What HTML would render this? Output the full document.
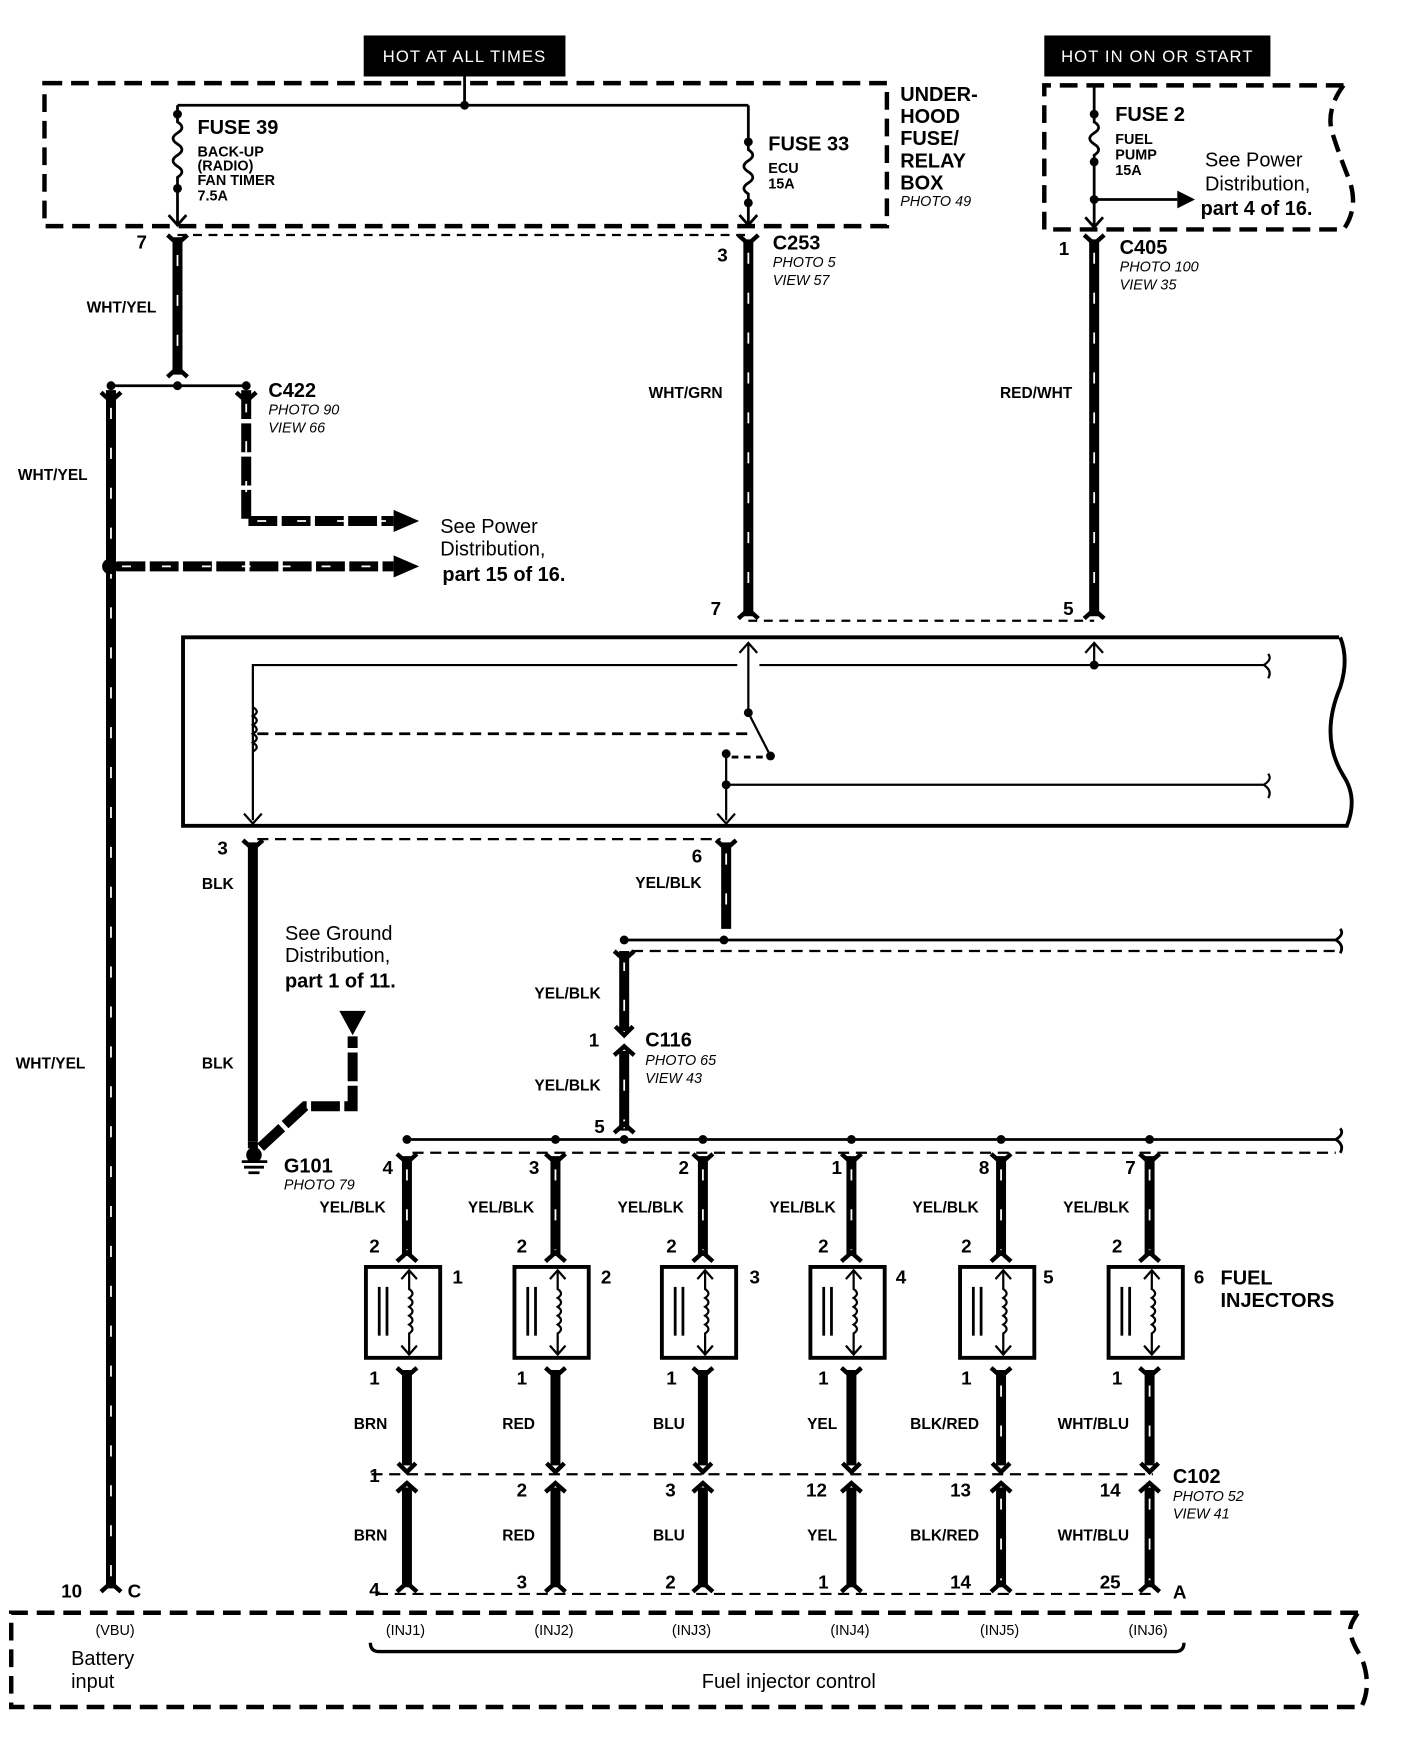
<!DOCTYPE html>
<html><head><meta charset="utf-8"><style>
html,body{margin:0;padding:0;background:#fff}
svg{display:block}
text{font-family:"Liberation Sans",sans-serif;fill:#000}
.b{font-weight:bold}
.w{font-weight:bold;font-size:14px}
.p{font-weight:bold;font-size:17px}
.i{font-style:italic;font-size:13px}
.h{font-weight:bold;font-size:18px}
</style></head><body>
<svg width="1408" height="1748" viewBox="0 0 1270 1577" xmlns="http://www.w3.org/2000/svg">
<defs>
<g id="inj">
<rect x="-37" y="0" width="67" height="82" fill="#fff" stroke="#000" stroke-width="3.5"/>
<line x1="-25" y1="18" x2="-25" y2="62" stroke="#000" stroke-width="2.5"/>
<line x1="-18" y1="18" x2="-18" y2="62" stroke="#000" stroke-width="2.5"/>
<path d="M2 3 V20 q6 4 0 8 q6 4 0 8 q6 4 0 8 q6 4 0 8 q6 4 0 8 V79" fill="none" stroke="#000" stroke-width="2"/>
<path d="M-5 11 L2 3 L9 11 M-5 71 L2 79 L9 71" fill="none" stroke="#000" stroke-width="2"/>
</g>
<path id="fork" d="M-9 -2 L0 6 L9 -2" fill="none" stroke="#000" stroke-width="4"/>
<path id="forku" d="M-9 2 L0 -6 L9 2" fill="none" stroke="#000" stroke-width="4"/>
<path id="chev" d="M-8 -8 L0 0 L8 -8" fill="none" stroke="#000" stroke-width="4"/>
</defs>

<rect x="328" y="32" width="182" height="37" fill="#000"/>
<text x="419" y="56" text-anchor="middle" style="fill:#fff;font-size:15px;letter-spacing:1px">HOT AT ALL TIMES</text>
<rect x="942" y="32" width="204" height="37" fill="#000"/>
<text x="1044" y="56" text-anchor="middle" style="fill:#fff;font-size:15px;letter-spacing:1px">HOT IN ON OR START</text>

<g fill="none" stroke="#000">
<rect x="40" y="75" width="760" height="129" stroke-width="4" stroke-dasharray="16 8"/>
<path d="M1212 77 H942 V207 H1212 q14 -20 5 -45 q-10 -25 -16 -45 q-4 -20 11 -40" stroke-width="4" stroke-dasharray="16 8"/>
<path d="M160 95 H675 M419 69 V95" stroke-width="2.5"/>
<path d="M160 95 V110 q8 5 0 10 q-8 5 0 10 q8 5 0 10 q-8 5 0 10 q8 5 0 10 V204 M152 194 L160 203 L168 194" stroke-width="2.5"/>
<path d="M675 95 V135 q8 5 0 10 q-8 5 0 10 q8 5 0 10 q-8 5 0 10 V204 M667 194 L675 203 L683 194" stroke-width="2.5"/>
<path d="M987 77 V110 q8 5 0 10 q-8 5 0 10 q8 5 0 10 V205 M979 196 L987 205 L995 196 M987 180 H1062" stroke-width="2.5"/>
<path d="M160 212 H675" stroke-width="2" stroke-dasharray="8 6"/>
</g>
<polygon points="1062,172 1078,180 1062,188" fill="#000"/>
<g fill="#000"><circle cx="419" cy="95" r="4"/><circle cx="160" cy="103" r="4"/><circle cx="160" cy="170" r="4"/><circle cx="675" cy="128" r="4"/><circle cx="675" cy="183" r="4"/><circle cx="987" cy="103" r="4"/><circle cx="987" cy="146" r="4"/><circle cx="987" cy="180" r="4"/></g>

<text x="178" y="121" class="h">FUSE 39</text>
<text x="178" y="141" class="b" font-size="13">BACK-UP</text>
<text x="178" y="154" class="b" font-size="13">(RADIO)</text>
<text x="178" y="167" class="b" font-size="13">FAN TIMER</text>
<text x="178" y="181" class="b" font-size="13">7.5A</text>
<text x="693" y="136" class="h">FUSE 33</text>
<text x="693" y="156" class="b" font-size="13">ECU</text>
<text x="693" y="170" class="b" font-size="13">15A</text>
<text x="812" y="91" class="h">UNDER-</text>
<text x="812" y="111" class="h">HOOD</text>
<text x="812" y="131" class="h">FUSE/</text>
<text x="812" y="151" class="h">RELAY</text>
<text x="812" y="171" class="h">BOX</text>
<text x="812" y="186" class="i">PHOTO 49</text>
<text x="1006" y="109" class="h">FUSE 2</text>
<text x="1006" y="130" class="b" font-size="13">FUEL</text>
<text x="1006" y="144" class="b" font-size="13">PUMP</text>
<text x="1006" y="158" class="b" font-size="13">15A</text>
<text x="1087" y="150" font-size="18">See Power</text>
<text x="1087" y="172" font-size="18">Distribution,</text>
<text x="1083" y="194" class="h" font-size="19">part 4 of 16.</text>

<g stroke-linecap="butt">
<g stroke="#000" stroke-width="9" fill="none">
<path d="M160 214 V338"/>
<path d="M100 352 V1433"/>
<path d="M675 216 V556"/>
<path d="M987 216 V556"/>
<path d="M228 760 V1030"/>
<path d="M655 760 V838"/>
<path d="M563 858 V930 M563 948 V1020"/>
</g>
<g stroke="#000" stroke-width="9" fill="none" stroke-dasharray="26 4">
<path d="M222 352 V470 H355"/>
<path d="M105 511 H355"/>
<path d="M235 1035 L275 998 H318 V935"/>
</g>
<g stroke="#fff" stroke-width="1.6" fill="none" stroke-dasharray="10 26">
<path d="M160 230 V338"/>
<path d="M100 368 V1430"/>
<path d="M675 228 V550"/>
<path d="M987 228 V550"/>
<path d="M655 770 V838"/>
<path d="M563 866 V1018"/>
<path d="M222 362 V465"/>
<path d="M232 470 H350 M110 511 H350" stroke-dasharray="8 28"/>
</g>
</g>
<polygon points="355,460 378,470 355,480" fill="#000"/>
<polygon points="355,501 378,511 355,521" fill="#000"/>
<polygon points="306,912 330,912 318,934" fill="#000"/>
<circle cx="99" cy="511" r="7" fill="#000"/>

<use href="#fork" x="160" y="214"/><use href="#fork" x="675" y="214"/><use href="#fork" x="987" y="214"/>
<use href="#forku" x="160" y="338"/>
<use href="#fork" x="100" y="356"/><use href="#fork" x="222" y="356"/>
<use href="#forku" x="675" y="556"/><use href="#forku" x="987" y="556"/>
<path d="M675 560 H987" stroke="#000" stroke-width="2" stroke-dasharray="8 6"/>

<text x="123" y="224" class="p">7</text>
<text x="78" y="282" class="w">WHT/YEL</text>
<text x="647" y="236" class="p">3</text>
<text x="697" y="225" class="h">C253</text>
<text x="697" y="241" class="i">PHOTO 5</text>
<text x="697" y="257" class="i">VIEW 57</text>
<text x="955" y="230" class="p">1</text>
<text x="1010" y="229" class="h">C405</text>
<text x="1010" y="245" class="i">PHOTO 100</text>
<text x="1010" y="261" class="i">VIEW 35</text>
<text x="585" y="359" class="w">WHT/GRN</text>
<text x="902" y="359" class="w">RED/WHT</text>
<text x="641" y="555" class="p">7</text>
<text x="959" y="555" class="p">5</text>

<path d="M100 348 H222" stroke="#000" stroke-width="2.5"/>
<g fill="#000"><circle cx="100" cy="348" r="4"/><circle cx="160" cy="348" r="4"/><circle cx="222" cy="348" r="4"/></g>
<text x="242" y="358" class="h">C422</text>
<text x="242" y="374" class="i">PHOTO 90</text>
<text x="242" y="390" class="i">VIEW 66</text>
<text x="16" y="433" class="w">WHT/YEL</text>
<text x="14" y="964" class="w">WHT/YEL</text>
<text x="397" y="481" font-size="18">See Power</text>
<text x="397" y="501" font-size="18">Distribution,</text>
<text x="399" y="524" class="h" font-size="19">part 15 of 16.</text>

<path d="M1208 575 H165 V745 H1215 q10 -25 -3 -45 q-22 -35 -3 -80 q8 -25 0 -45" fill="none" stroke="#000" stroke-width="3.5"/>
<g fill="none" stroke="#000" stroke-width="2">
<path d="M228 740 V600 H665 M685 600 H1140 q8 -5 4 -10 M1140 600 q8 5 4 12"/>
<path d="M228 638 q7 4 0 8 q7 4 0 8 q7 4 0 8 q7 4 0 8 q7 4 0 8"/>
<path d="M220 734 L228 743 L236 734"/>
<path d="M675 640 V580 M667 589 L675 580 L683 589"/>
<path d="M987 600 V580 M979 589 L987 580 L995 589"/>
<path d="M232 662 H680" stroke-dasharray="10 6" stroke-width="2.5"/>
<path d="M675 643 L695 682"/>
<path d="M655 680 V740 M647 734 L655 743 L663 734 M655 708 H1140 q8 -5 4 -10 M1140 708 q8 5 4 12"/>
<path d="M660 683 H690" stroke-dasharray="6 5" stroke-width="2.5"/>
</g>
<g fill="#000"><circle cx="675" cy="643" r="4"/><circle cx="695" cy="682" r="4"/><circle cx="655" cy="680" r="4"/><circle cx="655" cy="708" r="4"/><circle cx="987" cy="600" r="4"/></g>

<use href="#fork" x="228" y="760"/><use href="#fork" x="655" y="760"/>
<path d="M232 757 H650" stroke="#000" stroke-width="2" stroke-dasharray="10 6"/>
<text x="196" y="771" class="p">3</text>
<text x="182" y="802" class="w">BLK</text>
<text x="182" y="964" class="w">BLK</text>
<text x="624" y="778" class="p">6</text>
<text x="573" y="801" class="w">YEL/BLK</text>
<text x="257" y="848" font-size="18">See Ground</text>
<text x="257" y="868" font-size="18">Distribution,</text>
<text x="257" y="891" class="h" font-size="19">part 1 of 11.</text>
<circle cx="229" cy="1042" r="7" fill="#000"/>
<path d="M218 1048 H241 M220 1053 H238 M224 1058 H234" stroke="#000" stroke-width="2.5"/>
<path d="M228 1030 V1036" stroke="#000" stroke-width="9"/>
<text x="256" y="1058" class="h">G101</text>
<text x="256" y="1073" class="i">PHOTO 79</text>

<path d="M563 848 H1205 q8 -5 4 -10 M1205 848 q8 5 4 12" stroke="#000" stroke-width="2.5" fill="none"/>
<path d="M570 858 H1205" stroke="#000" stroke-width="2" stroke-dasharray="10 6"/>
<circle cx="563" cy="848" r="4"/><circle cx="653" cy="848" r="4"/>
<use href="#fork" x="563" y="860"/>
<use href="#chev" x="563" y="934"/><use href="#forku" x="563" y="950"/><use href="#forku" x="563" y="1020"/>
<text x="482" y="901" class="w">YEL/BLK</text>
<text x="531" y="944" class="p">1</text>
<text x="582" y="944" class="h">C116</text>
<text x="582" y="961" class="i">PHOTO 65</text>
<text x="582" y="977" class="i">VIEW 43</text>
<text x="482" y="984" class="w">YEL/BLK</text>
<text x="536" y="1022" class="p">5</text>

<path d="M367 1028 H1205 q8 -5 4 -10 M1205 1028 q8 5 4 12" stroke="#000" stroke-width="2.5" fill="none"/>
<path d="M372 1040 H1205" stroke="#000" stroke-width="2" stroke-dasharray="10 6"/>
<g fill="#000"><circle cx="367" cy="1028" r="4"/><circle cx="501" cy="1028" r="4"/><circle cx="563" cy="1028" r="4"/><circle cx="634" cy="1028" r="4"/><circle cx="768" cy="1028" r="4"/><circle cx="903" cy="1028" r="4"/><circle cx="1037" cy="1028" r="4"/></g>

<g stroke="#000" stroke-width="9" fill="none">
<path d="M367 1043 V1133 M501 1043 V1133 M634 1043 V1133 M768 1043 V1133 M903 1043 V1133 M1037 1043 V1133"/>
<path d="M367 1236 V1322 M501 1236 V1322 M634 1236 V1322 M768 1236 V1322 M903 1236 V1322 M1037 1236 V1322"/>
<path d="M367 1342 V1432 M501 1342 V1432 M634 1342 V1432 M768 1342 V1432 M903 1342 V1432 M1037 1342 V1432"/>
</g>
<g stroke="#fff" stroke-width="1.6" fill="none" stroke-dasharray="10 26">
<path d="M367 1055 V1130 M501 1055 V1130 M634 1055 V1130 M768 1055 V1130 M903 1055 V1130 M1037 1055 V1130"/>
<path d="M903 1250 V1318 M1037 1250 V1318 M903 1352 V1430 M1037 1352 V1430"/>
</g>
<g>
<use href="#fork" x="367" y="1043"/><use href="#fork" x="501" y="1043"/><use href="#fork" x="634" y="1043"/><use href="#fork" x="768" y="1043"/><use href="#fork" x="903" y="1043"/><use href="#fork" x="1037" y="1043"/>
<use href="#forku" x="367" y="1136"/><use href="#forku" x="501" y="1136"/><use href="#forku" x="634" y="1136"/><use href="#forku" x="768" y="1136"/><use href="#forku" x="903" y="1136"/><use href="#forku" x="1037" y="1136"/>
<use href="#fork" x="367" y="1236"/><use href="#fork" x="501" y="1236"/><use href="#fork" x="634" y="1236"/><use href="#fork" x="768" y="1236"/><use href="#fork" x="903" y="1236"/><use href="#fork" x="1037" y="1236"/>
<use href="#chev" x="367" y="1328"/><use href="#chev" x="501" y="1328"/><use href="#chev" x="634" y="1328"/><use href="#chev" x="768" y="1328"/><use href="#chev" x="903" y="1328"/><use href="#chev" x="1037" y="1328"/>
<use href="#forku" x="367" y="1344"/><use href="#forku" x="501" y="1344"/><use href="#forku" x="634" y="1344"/><use href="#forku" x="768" y="1344"/><use href="#forku" x="903" y="1344"/><use href="#forku" x="1037" y="1344"/>
<use href="#forku" x="367" y="1434"/><use href="#forku" x="501" y="1434"/><use href="#forku" x="634" y="1434"/><use href="#forku" x="768" y="1434"/><use href="#forku" x="903" y="1434"/><use href="#forku" x="1037" y="1434"/>
<use href="#forku" x="100" y="1434"/>
</g>
<path d="M335 1330 H1040" stroke="#000" stroke-width="2" stroke-dasharray="10 6"/>
<path d="M340 1438 H1040" stroke="#000" stroke-width="2" stroke-dasharray="10 6"/>
<use href="#inj" x="367" y="1143"/><use href="#inj" x="501" y="1143"/><use href="#inj" x="634" y="1143"/><use href="#inj" x="768" y="1143"/><use href="#inj" x="903" y="1143"/><use href="#inj" x="1037" y="1143"/>

<g>
<text x="345" y="1059" class="p">4</text><text x="477" y="1059" class="p">3</text><text x="612" y="1059" class="p">2</text><text x="750" y="1059" class="p">1</text><text x="883" y="1059" class="p">8</text><text x="1015" y="1059" class="p">7</text>
<text x="333" y="1130" class="p">2</text><text x="466" y="1130" class="p">2</text><text x="601" y="1130" class="p">2</text><text x="738" y="1130" class="p">2</text><text x="867" y="1130" class="p">2</text><text x="1003" y="1130" class="p">2</text>
<text x="408" y="1158" class="p">1</text><text x="542" y="1158" class="p">2</text><text x="676" y="1158" class="p">3</text><text x="808" y="1158" class="p">4</text><text x="941" y="1158" class="p">5</text><text x="1077" y="1158" class="p">6</text>
<text x="333" y="1249" class="p">1</text><text x="466" y="1249" class="p">1</text><text x="601" y="1249" class="p">1</text><text x="738" y="1249" class="p">1</text><text x="867" y="1249" class="p">1</text><text x="1003" y="1249" class="p">1</text>
<text x="333" y="1337" class="p">1</text><text x="466" y="1350" class="p">2</text><text x="600" y="1350" class="p">3</text><text x="727" y="1350" class="p">12</text><text x="857" y="1350" class="p">13</text><text x="992" y="1350" class="p">14</text>
<text x="333" y="1440" class="p">4</text><text x="466" y="1433" class="p">3</text><text x="600" y="1433" class="p">2</text><text x="738" y="1433" class="p">1</text><text x="857" y="1433" class="p">14</text><text x="992" y="1433" class="p">25</text>
<text x="55" y="1441" class="p">10</text><text x="115" y="1441" class="p">C</text><text x="1058" y="1442" class="p">A</text>
</g>
<text x="1101" y="1159" class="h">FUEL</text>
<text x="1101" y="1179" class="h">INJECTORS</text>
<text x="288" y="1094" class="w">YEL/BLK</text><text x="422" y="1094" class="w">YEL/BLK</text><text x="557" y="1094" class="w">YEL/BLK</text><text x="694" y="1094" class="w">YEL/BLK</text><text x="823" y="1094" class="w">YEL/BLK</text><text x="959" y="1094" class="w">YEL/BLK</text>
<text x="319" y="1289" class="w">BRN</text><text x="453" y="1289" class="w">RED</text><text x="589" y="1289" class="w">BLU</text><text x="728" y="1289" class="w">YEL</text><text x="821" y="1289" class="w">BLK/RED</text><text x="954" y="1289" class="w">WHT/BLU</text>
<text x="319" y="1390" class="w">BRN</text><text x="453" y="1390" class="w">RED</text><text x="589" y="1390" class="w">BLU</text><text x="728" y="1390" class="w">YEL</text><text x="821" y="1390" class="w">BLK/RED</text><text x="954" y="1390" class="w">WHT/BLU</text>
<text x="1058" y="1338" class="h">C102</text>
<text x="1058" y="1354" class="i">PHOTO 52</text>
<text x="1058" y="1370" class="i">VIEW 41</text>

<path d="M1225 1455 H10 V1540 H1228 q10 -20 0 -45 q-10 -15 -10 -25 q0 -5 7 -15" fill="none" stroke="#000" stroke-width="4" stroke-dasharray="16 8"/>
<text x="86" y="1475" font-size="13">(VBU)</text>
<text x="64" y="1502" font-size="18">Battery</text>
<text x="64" y="1523" font-size="18">input</text>
<text x="348" y="1475" font-size="13">(INJ1)</text><text x="482" y="1475" font-size="13">(INJ2)</text><text x="606" y="1475" font-size="13">(INJ3)</text><text x="749" y="1475" font-size="13">(INJ4)</text><text x="884" y="1475" font-size="13">(INJ5)</text><text x="1018" y="1475" font-size="13">(INJ6)</text>
<path d="M334 1482 q0 8 8 8 H1060 q8 0 8 -8" fill="none" stroke="#000" stroke-width="3"/>
<text x="633" y="1523" font-size="18">Fuel injector control</text>
</svg>
</body></html>
